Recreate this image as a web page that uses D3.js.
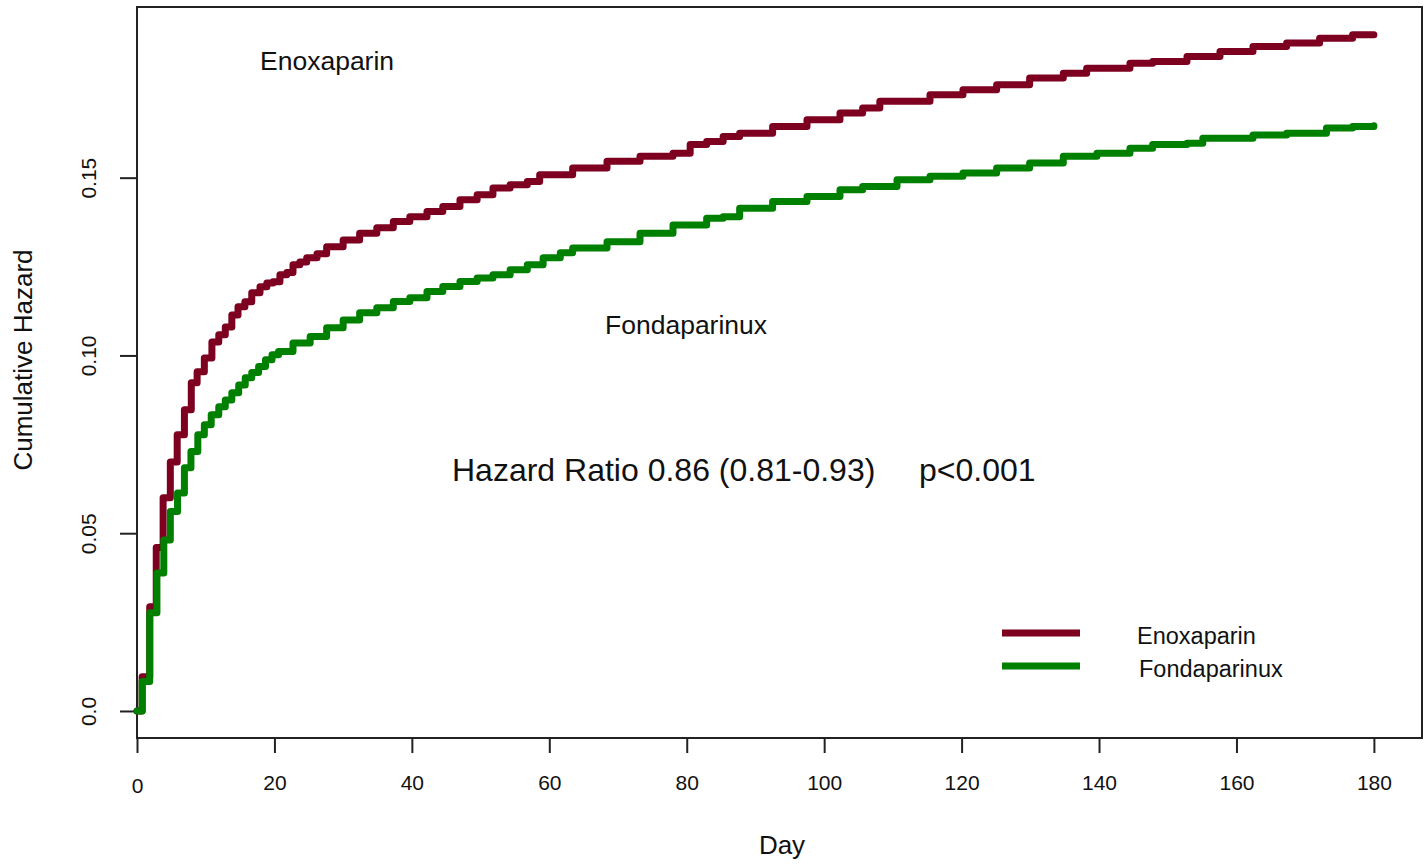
<!DOCTYPE html>
<html>
<head>
<meta charset="utf-8">
<script src="https://cdn.jsdelivr.net/npm/d3@7/dist/d3.min.js"></script>
<style>
    body { margin: 0; background: #fff; }
    svg text { font-family: 'Liberation Sans', Arial, sans-serif; fill: #111; }
</style>
</head>
<body>
<div id="chart"></div>
<script>
// Cumulative hazard (day, hazard), step after each point
const enoxDays = [0, 0.75, 1.85, 2.8, 3.8, 4.85, 5.85, 6.9, 7.9, 8.75,
    9.8, 10.9, 11.9, 12.85, 13.8, 14.7, 15.7, 16.7, 17.9, 18.9,
    19.8, 20.8, 21.8, 22.7, 23.7, 24.7, 26.2, 27.6, 30.0, 32.4,
    34.9, 37.3, 39.7, 42.2, 44.5, 47.0, 49.5, 51.8, 54.3, 56.8,
    58.6, 63.4, 68.4, 73.2, 78.0, 80.5, 82.9, 85.3, 87.7, 92.5,
    97.5, 102.3, 105.6, 108.1, 115.4, 120.2, 125.1, 129.9, 134.8, 138.2,
    144.5, 147.8, 152.8, 157.6, 162.4, 167.3, 172.1, 176.9, 180];
const enoxHazard = [0, 0.0096, 0.0293, 0.046, 0.060, 0.070, 0.0777, 0.0847, 0.0923, 0.0954,
    0.0993, 0.1038, 0.1058, 0.108, 0.1114, 0.1137, 0.1151, 0.1176, 0.1193, 0.1204,
    0.1207, 0.1227, 0.1233, 0.1255, 0.1263, 0.1275, 0.1286, 0.1306, 0.1325, 0.1344,
    0.1359, 0.1377, 0.139, 0.1405, 0.1419, 0.1438, 0.1452, 0.1471, 0.148, 0.1489,
    0.1508, 0.1527, 0.1546, 0.156, 0.1569, 0.1593, 0.1602, 0.1616, 0.1625, 0.1644,
    0.1663, 0.1682, 0.1696, 0.1715, 0.1733, 0.1747, 0.1761, 0.178, 0.1794, 0.1808,
    0.1822, 0.1827, 0.1841, 0.1855, 0.1869, 0.1879, 0.1892, 0.1902, 0.1902];

const fondaDays = [0, 0.75, 1.85, 2.9, 3.9, 4.85, 5.9, 6.9, 7.85, 8.85,
    9.8, 10.8, 11.9, 12.85, 13.8, 14.8, 15.75, 16.7, 17.7, 18.7,
    19.65, 20.6, 22.7, 25.2, 27.6, 30.0, 32.4, 34.9, 37.3, 39.7,
    42.2, 44.5, 47.0, 49.5, 51.8, 54.3, 56.8, 59.1, 61.6, 63.4,
    68.4, 73.2, 78.0, 82.9, 85.3, 87.7, 92.5, 97.5, 102.3, 105.6,
    110.6, 115.4, 120.2, 125.1, 129.9, 134.8, 139.7, 144.5, 147.8, 152.8,
    155.1, 162.4, 167.3, 171.1, 173.1, 176.9, 180];
const fondaHazard = [0, 0.0083, 0.0276, 0.0388, 0.0481, 0.0561, 0.0613, 0.0684, 0.073, 0.0777,
    0.0805, 0.0833, 0.0856, 0.0875, 0.0895, 0.0917, 0.0937, 0.0952, 0.0969, 0.0988,
    0.1002, 0.1011, 0.1035, 0.1053, 0.1078, 0.11, 0.112, 0.1134, 0.1152, 0.1162,
    0.118, 0.1194, 0.1208, 0.1218, 0.1227, 0.1241, 0.1255, 0.1275, 0.1289, 0.1302,
    0.132, 0.1344, 0.1367, 0.1386, 0.139, 0.1414, 0.1433, 0.1447, 0.1466, 0.1475,
    0.1494, 0.1504, 0.1513, 0.1527, 0.1541, 0.156, 0.1569, 0.1583, 0.1593, 0.1597,
    0.1611, 0.162, 0.1625, 0.1625, 0.164, 0.1644, 0.1646];

const seriesNames = ['Enoxaparin', 'Fondaparinux'];
const seriesColors = ['#7d0020', '#008000'];
const xTicks = [0, 20, 40, 60, 80, 100, 120, 140, 160, 180];
const yTicks = [0, 0.05, 0.10, 0.15];
const yTickLabels = ['0.0', '0.05', '0.10', '0.15'];

const width = 1428;
const height = 865;
const plot = { left: 137, right: 1422, top: 7, bottom: 738 };

const svg = d3.select('#chart')
    .append('svg')
    .attr('width', width)
    .attr('height', height);

const x = d3.scaleLinear().domain([0, 187]).range([plot.left, plot.right]);
const y = d3.scaleLinear().domain([-0.0076, 0.198]).range([plot.bottom, plot.top]);

// X axis
const xAxis = svg.append('g')
    .attr('transform', `translate(0,${plot.bottom})`)
    .call(d3.axisBottom(x).tickValues(xTicks).tickSize(15).tickFormat(d3.format('d')));
xAxis.select('.domain').remove();
xAxis.selectAll('line').attr('stroke', '#222').attr('stroke-width', 2);
xAxis.selectAll('text')
    .attr('y', 52)
    .attr('dy', 0)
    .style('font-size', '21px')
    .attr('fill', '#111');
xAxis.selectAll('.tick').filter((d) => d === 0).select('text').attr('y', 55);

// Y axis with labels parallel to the axis
const yAxis = svg.append('g')
    .attr('transform', `translate(${plot.left},0)`)
    .call(d3.axisLeft(y).tickValues(yTicks).tickSize(17).tickFormat((d, i) => yTickLabels[i]));
yAxis.select('.domain').remove();
yAxis.selectAll('line').attr('stroke', '#222').attr('stroke-width', 2);
yAxis.selectAll('text')
    .attr('x', 0)
    .attr('y', -41)
    .attr('dy', 0)
    .attr('transform', 'rotate(-90)')
    .attr('text-anchor', 'middle')
    .style('font-size', '21px')
    .attr('fill', '#111');

// Plot box
svg.append('rect')
    .attr('x', plot.left)
    .attr('y', plot.top)
    .attr('width', plot.right - plot.left)
    .attr('height', plot.bottom - plot.top)
    .attr('fill', 'none')
    .attr('stroke', '#222')
    .attr('stroke-width', 2);

// Curves
const line = d3.line()
    .x((d) => x(d[0]))
    .y((d) => y(d[1]))
    .curve(d3.curveStepAfter);

const series = [
    d3.zip(enoxDays, enoxHazard),
    d3.zip(fondaDays, fondaHazard)
];

series.forEach((pts, i) => {
    svg.append('path')
        .datum(pts)
        .attr('d', line)
        .attr('fill', 'none')
        .attr('stroke', seriesColors[i])
        .attr('stroke-width', 7)
        .attr('stroke-linejoin', 'round')
        .attr('stroke-linecap', 'round');
});

// Axis titles
svg.append('text')
    .attr('x', 782)
    .attr('y', 854)
    .attr('text-anchor', 'middle')
    .style('font-size', '26px')
    .text('Day');

svg.append('text')
    .attr('transform', 'translate(32,360) rotate(-90)')
    .attr('text-anchor', 'middle')
    .style('font-size', '26px')
    .text('Cumulative Hazard');

// In-plot annotations
svg.append('text')
    .attr('x', 260)
    .attr('y', 70)
    .style('font-size', '26.5px')
    .text(seriesNames[0]);

svg.append('text')
    .attr('x', 605)
    .attr('y', 334)
    .style('font-size', '26.5px')
    .text(seriesNames[1]);

svg.append('text')
    .attr('x', 452)
    .attr('y', 481)
    .style('font-size', '32px')
    .text('Hazard Ratio 0.86 (0.81-0.93)');

svg.append('text')
    .attr('x', 919)
    .attr('y', 481)
    .style('font-size', '32px')
    .text('p<0.001');

// Legend
const legendY = [633, 666];
const legendTextX = [1137, 1139];
seriesNames.forEach((name, i) => {
    svg.append('line')
        .attr('x1', 1002)
        .attr('x2', 1080)
        .attr('y1', legendY[i])
        .attr('y2', legendY[i])
        .attr('stroke', seriesColors[i])
        .attr('stroke-width', 7);
    svg.append('text')
        .attr('x', legendTextX[i])
        .attr('y', legendY[i] + 11)
        .style('font-size', '23.5px')
        .text(name);
});
</script>
</body>
</html>
